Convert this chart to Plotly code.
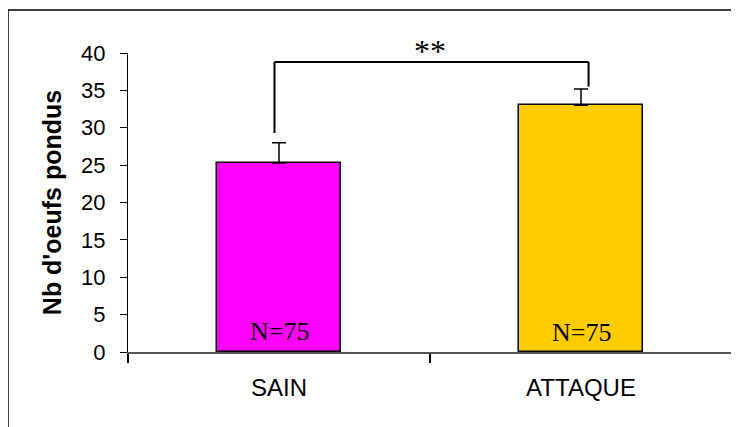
import plotly.graph_objects as go

categories = ["SAIN", "ATTAQUE"]
mean_eggs = [25.3, 33.0]
error_plus = [2.7, 2.2]
bar_colors = ["#FF00FF", "#FFCC00"]
n_labels = ["N=75", "N=75"]
n_label_y = [2.8, 2.6]
y_ticks = [0, 5, 10, 15, 20, 25, 30, 35, 40]
bracket_top = 38.8
bracket_left_bottom = 29.3
bracket_right_bottom = 35.5
sig_text = "**"

fig = go.Figure()
fig.add_trace(go.Bar(
    x=categories, y=mean_eggs, width=0.41,
    marker=dict(color=bar_colors, line=dict(color="black", width=1.5)),
    error_y=dict(type="data", array=error_plus, arrayminus=[0, 0], symmetric=False,
                 color="black", thickness=1.5, width=7),
    showlegend=False,
))

for i, (lab, yy) in enumerate(zip(n_labels, n_label_y)):
    fig.add_annotation(x=i, y=yy, xref="x", yref="y", text=lab, showarrow=False,
                       font=dict(family="Liberation Serif, Times New Roman, serif", size=26, color="black"),
                       yanchor="middle")

# significance bracket
xl, xr = 0 - 0.015, 1 + 0.025
for (x0, y0, x1, y1) in [(xl, bracket_left_bottom, xl, bracket_top),
                         (xl, bracket_top, xr, bracket_top),
                         (xr, bracket_top, xr, bracket_right_bottom)]:
    fig.add_shape(type="line", xref="x", yref="y", x0=x0, y0=y0, x1=x1, y1=y1,
                  line=dict(color="black", width=2))
fig.add_annotation(x=0.5, y=bracket_top, xref="x", yref="y", text=sig_text, showarrow=False,
                   yanchor="bottom", yshift=-9,
                   font=dict(family="Liberation Serif, Times New Roman, serif", size=32, color="black"))

# outer frame
fig.add_shape(type="rect", xref="paper", yref="paper", x0=-0.1987, x1=1.03, y0=-0.27, y1=1.1438,
              line=dict(color="black", width=1.5), fillcolor="rgba(0,0,0,0)", layer="below")

fig.update_layout(
    width=731, height=419,
    margin=dict(l=120, r=7, t=45, b=75),
    paper_bgcolor="white", plot_bgcolor="white",
    font=dict(family="Liberation Sans, Arial, sans-serif", color="black"),
    bargap=0,
)
fig.update_xaxes(
    type="category", range=[-0.5, 1.5], tickson="boundaries",
    ticks="outside", ticklen=9, tickcolor="black", tickwidth=1.5,
    showline=True, linecolor="#555555", linewidth=1.5,
    showgrid=False, tickfont=dict(size=24), ticklabelstandoff=13,
)
fig.update_yaxes(
    range=[0, 40], tickvals=y_ticks, ticks="outside", ticklen=7, tickcolor="black",
    showline=True, linecolor="black", linewidth=1, showgrid=False, zeroline=False,
    tickfont=dict(size=22), ticklabelstandoff=10,
    title=dict(text="<b>Nb d'oeufs pondus</b>", font=dict(size=25), standoff=12),
    automargin=False,
)

fig.write_html("out.html")
